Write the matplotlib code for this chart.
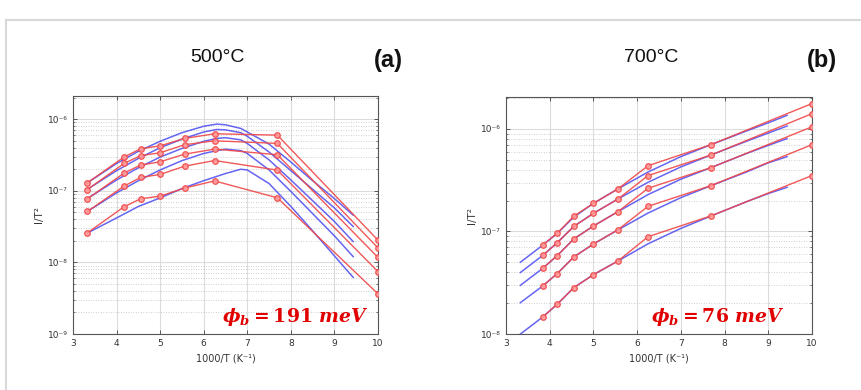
import numpy as np
import matplotlib
matplotlib.use("Agg")
import matplotlib.pyplot as plt
from matplotlib.ticker import LogLocator, FixedLocator, FuncFormatter, NullFormatter
from matplotlib.lines import Line2D

plt.rcParams['mathtext.fontset'] = 'custom'
plt.rcParams['mathtext.rm'] = 'DejaVu Serif:bold'
plt.rcParams['mathtext.it'] = 'DejaVu Serif:italic:bold'
plt.rcParams['mathtext.bf'] = 'DejaVu Serif:bold'

# ---------------- data ----------------
# measured points (1000/T)
x_a = [3.33, 4.17, 4.55, 5.0, 5.56, 6.25, 7.69, 10.0]
red_a = [
    [1.29e-7, 2.95e-7, 3.85e-7, 4.23e-7, 5.37e-7, 6.24e-7, 5.97e-7, 2.04e-8],
    [1.04e-7, 2.40e-7, 3.08e-7, 3.39e-7, 4.38e-7, 4.98e-7, 4.57e-7, 1.59e-8],
    [7.71e-8, 1.76e-7, 2.28e-7, 2.53e-7, 3.24e-7, 3.81e-7, 3.18e-7, 1.17e-8],
    [5.13e-8, 1.16e-7, 1.53e-7, 1.69e-7, 2.20e-7, 2.64e-7, 1.94e-7, 7.43e-9],
    [2.58e-8, 5.96e-8, 7.71e-8, 8.40e-8, 1.09e-7, 1.37e-7, 7.96e-8, 3.63e-9],
]
# fitted curves (log10 values)
xb_a = [3.33, 4.0, 4.5, 5.0, 5.5, 6.0, 6.3, 6.5, 6.85, 7.0, 7.5, 8.0, 8.5, 9.0, 9.43]
blue_a_log = [
    [-6.89, -6.62, -6.45, -6.31, -6.19, -6.10, -6.07, -6.08, -6.13, -6.18, -6.35, -6.60, -6.86, -7.11, -7.34],
    [-6.98, -6.72, -6.55, -6.40, -6.28, -6.18, -6.145, -6.15, -6.19, -6.24, -6.46, -6.72, -6.98, -7.24, -7.50],
    [-7.11, -6.85, -6.68, -6.53, -6.41, -6.31, -6.27, -6.26, -6.29, -6.34, -6.57, -6.85, -7.14, -7.43, -7.71],
    [-7.29, -7.03, -6.86, -6.71, -6.58, -6.48, -6.44, -6.42, -6.44, -6.48, -6.71, -7.01, -7.32, -7.63, -7.92],
    [-7.59, -7.38, -7.22, -7.10, -6.97, -6.86, -6.80, -6.76, -6.70, -6.71, -6.90, -7.22, -7.56, -7.91, -8.21],
]

x_b = [3.85, 4.17, 4.55, 5.0, 5.56, 6.25, 7.69, 10.0]
red_b = [
    [7.45e-8, 9.60e-8, 1.41e-7, 1.88e-7, 2.60e-7, 4.38e-7, 7.03e-7, 1.77e-6],
    [5.90e-8, 7.73e-8, 1.12e-7, 1.50e-7, 2.07e-7, 3.51e-7, 5.57e-7, 1.41e-6],
    [4.41e-8, 5.81e-8, 8.45e-8, 1.13e-7, 1.56e-7, 2.64e-7, 4.20e-7, 1.05e-6],
    [2.97e-8, 3.88e-8, 5.64e-8, 7.55e-8, 1.04e-7, 1.76e-7, 2.80e-7, 7.03e-7],
    [1.48e-8, 1.95e-8, 2.83e-8, 3.79e-8, 5.15e-8, 8.90e-8, 1.42e-7, 3.51e-7],
]
xb_b = [3.33, 3.85, 4.17, 4.55, 5.0, 5.56, 6.25, 7.0, 7.69, 8.5, 9.0, 9.43]
blue_b_log = [
    [-7.30, -7.13, -7.02, -6.86, -6.725, -6.585, -6.42, -6.27, -6.153, -6.02, -5.94, -5.867],
    [-7.40, -7.23, -7.11, -6.95, -6.823, -6.683, -6.52, -6.37, -6.254, -6.12, -6.04, -5.971],
    [-7.525, -7.356, -7.236, -7.073, -6.946, -6.807, -6.64, -6.49, -6.377, -6.24, -6.16, -6.094],
    [-7.694, -7.528, -7.411, -7.249, -7.122, -6.985, -6.82, -6.67, -6.553, -6.42, -6.33, -6.27],
    [-8.0, -7.831, -7.711, -7.548, -7.421, -7.288, -7.12, -6.97, -6.849, -6.71, -6.63, -6.569],
]

titles = ["500°C", "700°C"]
letters = ["(a)", "(b)"]
phi_labels = [r"$\phi_b = 191\ \mathit{meV}$", r"$\phi_b = 76\ \mathit{meV}$"]
x_ticks = [3, 4, 5, 6, 7, 8, 9, 10]

# ---------------- figure ----------------
fig = plt.figure(figsize=(8.62, 3.90), dpi=100)
fig.patch.set_facecolor("white")

# outer frame lines
fig.add_artist(Line2D([6/862, 1.0], [1-20/390, 1-20/390], color="#d8d8d8", lw=1.5))
fig.add_artist(Line2D([6/862, 6/862], [0, 1-20/390], color="#d8d8d8", lw=1.5))

axA = fig.add_axes([73/862, 1-334/390, 305/862, 238/390])
axB = fig.add_axes([506/862, 1-334/390, 306/862, 237/390])

RED = "#f04646"
BLUE = "#4a4af0"
tick_col = "#404040"

def sup(v, pos):
    e = int(round(np.log10(v)))
    s = str(e).replace("-", "⁻")
    trans = str.maketrans("0123456789", "⁰¹²³⁴⁵⁶⁷⁸⁹")
    return "10" + s.translate(trans)

def setup(ax, ylim, majors):
    ax.set_yscale("log")
    ax.set_xlim(3, 10)
    ax.set_ylim(*ylim)
    ax.set_xticks(x_ticks)
    ax.set_xticklabels([str(t) for t in x_ticks])
    ax.yaxis.set_major_locator(FixedLocator(majors))
    ax.yaxis.set_major_formatter(FuncFormatter(sup))
    ax.yaxis.set_minor_locator(LogLocator(base=10, subs=np.arange(2, 10), numticks=20))
    ax.yaxis.set_minor_formatter(NullFormatter())
    ax.tick_params(which="both", direction="in", top=True, right=True, colors=tick_col,
                   labelsize=6.5, labelcolor="#333333")
    ax.tick_params(which="major", length=3, width=0.6)
    ax.tick_params(which="minor", length=1.6, width=0.5)
    ax.grid(True, which="major", axis="both", color="#dcdcdc", lw=0.8)
    ax.grid(True, which="minor", axis="y", color="#c0c0c0", lw=0.6, ls=(0, (1, 2)))
    for s in ax.spines.values():
        s.set_color("#555555")
        s.set_linewidth(0.8)
    ax.set_axisbelow(True)
    ax.set_xlabel("1000/T (K⁻¹)", fontsize=7, color="#333333", labelpad=4)
    ax.set_ylabel("I/T²", fontsize=7.5, color="#333333", labelpad=3)

def draw(ax, xb, blue_log, xr, reds):
    for bl in blue_log:
        ax.plot(xb, 10.0 ** np.array(bl), color=BLUE, lw=1.1, alpha=0.85, zorder=2)
    for r in reds:
        ax.plot(xr, r, color=RED, lw=1.0, alpha=0.9, marker="o", ms=4.0,
                mfc=(1, 0.6, 0.6, 0.4), mec=RED, mew=0.9, zorder=3)

setup(axA, (1e-9, 2.1e-6), [1e-9, 1e-8, 1e-7, 1e-6])
setup(axB, (1e-8, 2.05e-6), [1e-8, 1e-7, 1e-6])
draw(axA, xb_a, blue_a_log, x_a, red_a)
draw(axB, xb_b, blue_b_log, x_b, red_b)

# titles and panel letters
fig.text(217/862, 1-58/390, titles[0], fontsize=14, ha="center", va="center",
         color="#111111", family="Liberation Sans")
fig.text(388/862, 1-60/390, letters[0], fontsize=17, ha="center", va="center",
         color="#111111", weight="bold", family="Liberation Sans")
fig.text(651/862, 1-58/390, titles[1], fontsize=14, ha="center", va="center",
         color="#111111", family="Liberation Sans")
fig.text(822/862, 1-60/390, letters[1], fontsize=17, ha="center", va="center",
         color="#111111", weight="bold", family="Liberation Sans")

# phi_b annotations
axA.text(0.97, 0.07, phi_labels[0], transform=axA.transAxes, ha="right", va="center",
         fontsize=13.5, color="#e00000")
axB.text(0.91, 0.07, phi_labels[1], transform=axB.transAxes, ha="right", va="center",
         fontsize=13.5, color="#e00000")

fig.savefig("out.png", dpi=100, facecolor="white")
